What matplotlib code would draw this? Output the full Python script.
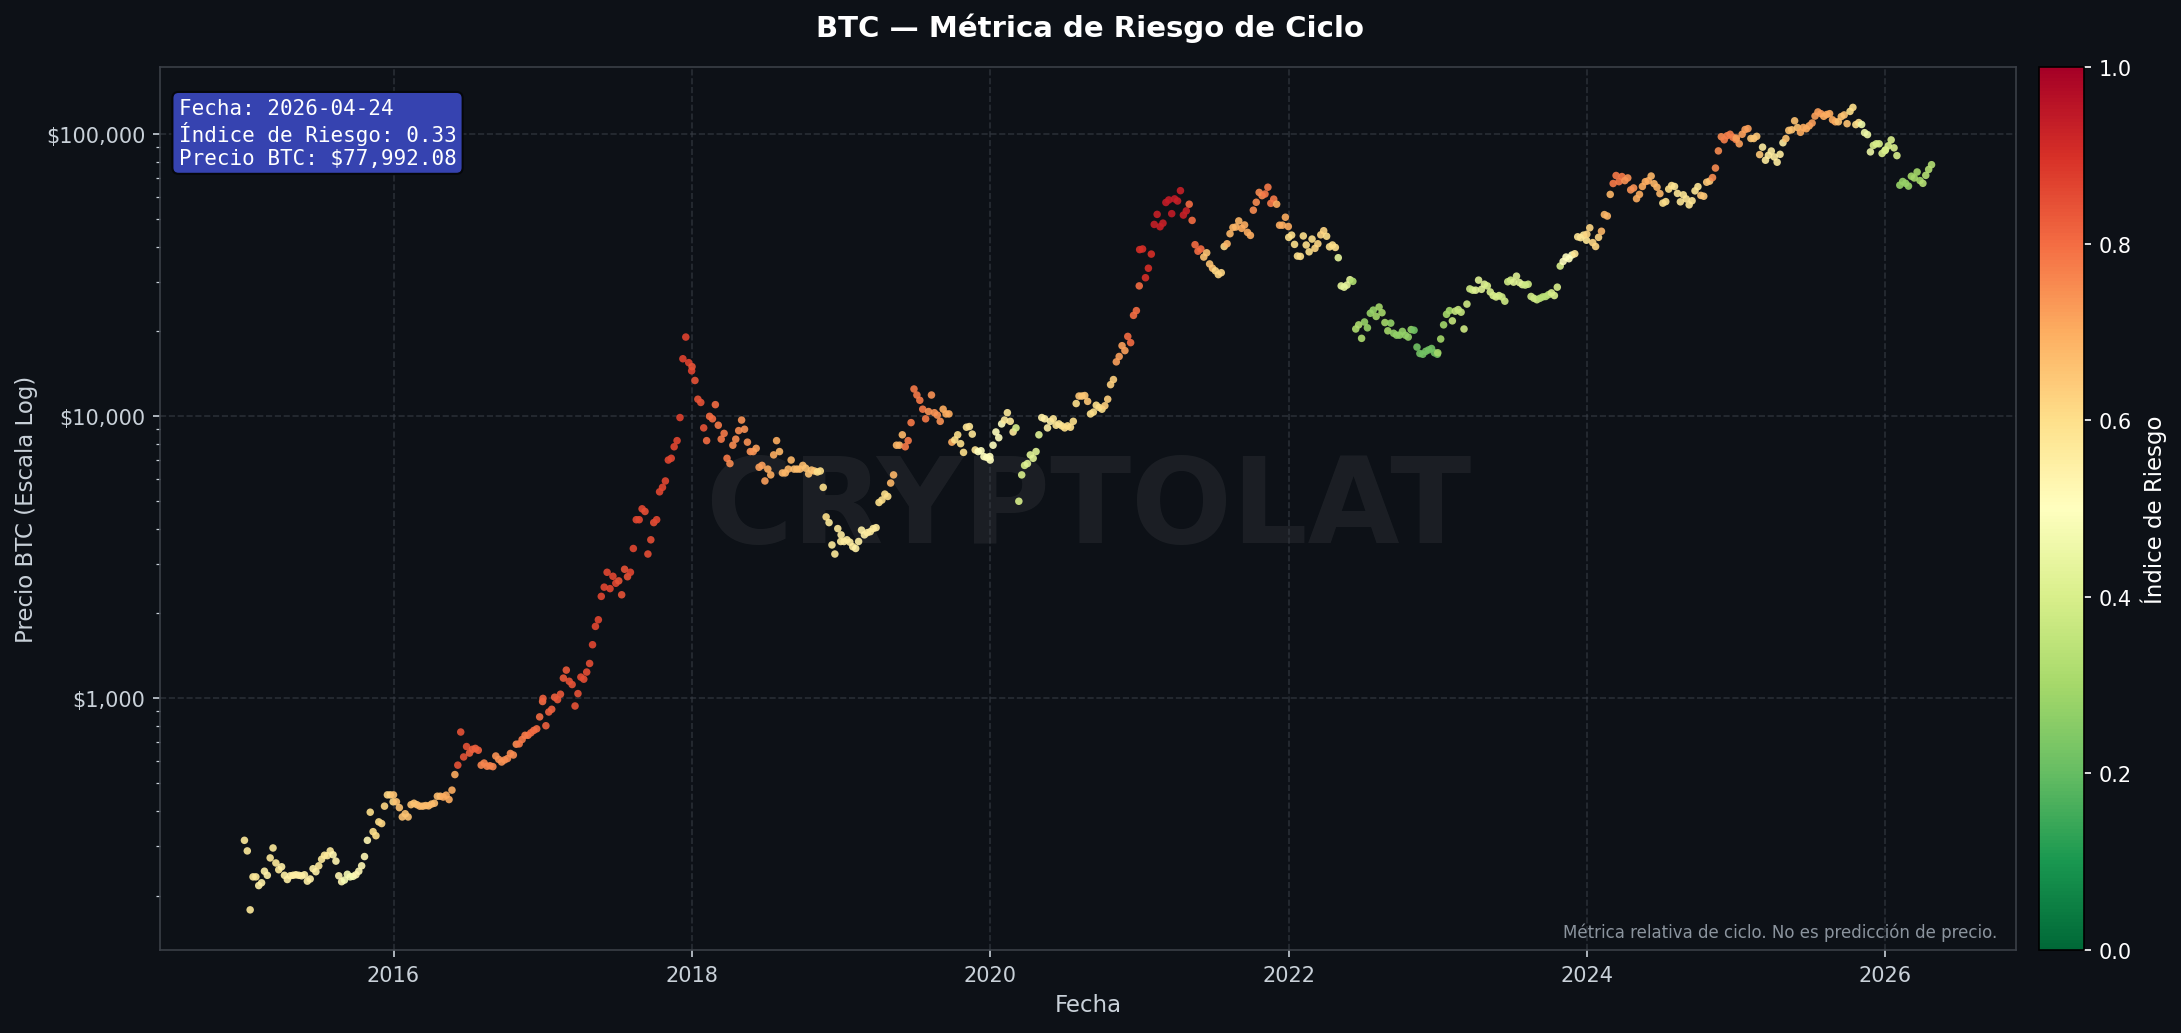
import pandas as pd
import numpy as np
import matplotlib
matplotlib.use("Agg")
import matplotlib.pyplot as plt
import matplotlib.dates as mdates
from matplotlib.ticker import FuncFormatter, NullFormatter

# precio semanal aproximado (USD), por año
p2015 = [314, 288, 178, 233, 233, 217, 222, 244, 236, 272, 295, 261, 247,
         253, 236, 228, 235, 236, 237, 236, 235, 237, 225, 229, 249, 243,
         255, 269, 278, 277, 288, 279, 265, 235, 224, 227, 238, 233, 234,
         237, 244, 255, 275, 314, 395, 337, 326, 365, 360, 415, 455, 455, 430]
p2016 = [455, 430, 410, 380, 390, 380, 420, 425, 420, 415, 415, 417, 416,
         422, 425, 450, 450, 447, 454, 438, 473, 537, 580, 760, 620, 675,
         640, 660, 665, 655, 580, 590, 575, 577, 573, 625, 608, 595, 605,
         612, 638, 630, 688, 690, 715, 740, 740, 755, 770, 780, 860, 975]
p2017 = [1000, 800, 895, 915, 1010, 990, 1035, 1180, 1260, 1150, 1120, 940, 1040,
         1190, 1170, 1240, 1330, 1550, 1800, 1900, 2300, 2480, 2800, 2450, 2710, 2560,
         2610, 2330, 2870, 2700, 2800, 3400, 4300, 4300, 4700, 4600, 3250, 3650, 4200,
         4300, 5400, 5600, 5900, 7000, 7100, 7800, 8200, 9900, 16000, 19100, 15500, 14500]
p2018 = [15000, 13400, 11500, 11200, 9100, 8200, 10000, 9800, 11000, 9300, 8300, 8700, 7100,
         6800, 7900, 8300, 8900, 9700, 9000, 8100, 7500, 7500, 7700, 6600, 6700, 5900,
         6500, 6200, 7300, 8200, 7500, 6300, 6300, 6500, 7000, 6500, 6500, 6500, 6700,
         6550, 6250, 6450, 6400, 6350, 6400, 5600, 4400, 4200, 3500, 3250, 4000, 3600]
p2019 = [3800, 3600, 3650, 3580, 3450, 3400, 3600, 3950, 3800, 3870, 3900, 4000, 4030,
         4950, 5050, 5300, 5200, 5800, 6200, 7900, 7900, 8600, 7800, 8200, 9500, 12500,
         11900, 11400, 10600, 9800, 10400, 11900, 10300, 10100, 9600, 10600, 10200, 10200, 8100,
         8250, 8600, 8000, 7450, 9150, 9200, 8650, 7600, 7500, 7550, 7200, 7150, 7200]
p2020 = [7000, 7900, 8800, 8400, 9400, 9700, 10300, 9600, 8800, 9100, 5000, 6200, 6700,
         6800, 7300, 7100, 7500, 8600, 9900, 9800, 9100, 9600, 9800, 9300, 9400, 9250,
         9100, 9250, 9150, 9600, 11100, 11800, 11800, 11850, 11300, 10200, 10350, 10950, 10750,
         10600, 10900, 11500, 12950, 13500, 15600, 16300, 17800, 17100, 19200, 18250, 22800,
         23700, 29000]
p2021 = [39000, 39200, 31000, 33500, 37600, 47900, 52000, 47000, 48400, 57300, 58500, 52300,
         59000, 58000, 63100, 51700, 53500, 56500, 49500, 40600, 38500, 39200, 36700, 38000,
         34700, 33500, 32800, 31800, 32300, 40000, 40900, 44400, 46700, 46900, 49300, 46400,
         47700, 44900, 43800, 53800, 57400, 62200, 60600, 61400, 64900, 56900, 58900, 56500,
         47600, 47600, 50800, 47100]
p2022 = [43100, 43900, 40700, 37000, 36900, 43600, 40500, 38300, 42500, 39400, 40900, 44000,
         45500, 43500, 39900, 40500, 39700, 36500, 29000, 28700, 29200, 30500, 30100, 20400,
         21100, 18900, 21600, 20600, 23200, 23800, 22600, 24400, 23300, 21500, 20100, 21400,
         19700, 19400, 19400, 20000, 19400, 19100, 20300, 20200, 17600, 16700, 16600, 17000,
         17200, 17400, 16800, 16600]
p2023 = [16800, 18800, 21100, 23000, 23700, 21800, 23600, 23900, 23400, 20400, 25000, 28300,
         28000, 28000, 30400, 28200, 29400, 29000, 27600, 26800, 26500, 26800, 26500, 25600,
         30000, 30400, 29900, 31400, 29800, 29300, 29200, 29400, 26600, 26200, 25900, 26200,
         26500, 26600, 27000, 27400, 26800, 28700, 34100, 35400, 36700, 36200, 37300, 37700,
         43300, 43000, 43900, 42100]
p2024 = [44200, 46600, 41300, 40000, 43100, 45300, 51900, 51300, 61200, 66900, 71400, 67900,
         70800, 68500, 70000, 63500, 64500, 59100, 61200, 65300, 67900, 68400, 71100, 66800,
         64900, 61600, 57000, 57700, 63900, 65800, 65300, 61700, 57600, 61000, 59000, 56200,
         58100, 63000, 65200, 60700, 60300, 67600, 68200, 70200, 75900, 87300, 98000, 95600,
         98800, 100000, 97500, 95800]
p2025 = [96900, 92500, 100000, 103900, 104700, 96600, 96600, 98300, 84700, 90000, 80900, 84200,
         87200, 83100, 79600, 84900, 93300, 96500, 103200, 103700, 111600, 105600, 101600, 105700,
         104600, 107100, 109600, 116000, 120000, 118300, 115800, 117500, 118300, 112500, 110700,
         110700, 115500, 117100, 109000, 120500, 124500, 108200, 110000, 108300, 101300, 99700,
         86600, 91300, 92500, 92500, 85500, 87500]
p2026 = [88000, 91000, 95500, 89500, 84000, 66000, 68000, 67000, 65500, 71000, 70000, 73500,
         68500, 67000, 71500, 75000, 77992.08]

r2015 = [0.57, 0.55, 0.57, 0.55, 0.55, 0.55, 0.57, 0.53, 0.48, 0.52, 0.60, 0.62]
r2016 = [0.66, 0.66, 0.67, 0.67, 0.70, 0.84, 0.82, 0.76, 0.74, 0.75, 0.78, 0.80]
r2017 = [0.82, 0.83, 0.84, 0.85, 0.86, 0.86, 0.84, 0.86, 0.85, 0.86, 0.86, 0.87]
r2018 = [0.84, 0.80, 0.78, 0.75, 0.74, 0.72, 0.70, 0.68, 0.67, 0.66, 0.60, 0.57]
r2019 = [0.56, 0.55, 0.56, 0.60, 0.68, 0.78, 0.78, 0.74, 0.70, 0.60, 0.58, 0.50]
r2020 = [0.50, 0.57, 0.40, 0.42, 0.55, 0.58, 0.60, 0.65, 0.60, 0.63, 0.72, 0.80]
r2021 = [0.90, 0.93, 0.94, 0.93, 0.80, 0.66, 0.62, 0.68, 0.70, 0.75, 0.78, 0.70]
r2022 = [0.60, 0.60, 0.62, 0.60, 0.43, 0.32, 0.28, 0.30, 0.27, 0.27, 0.22, 0.22]
r2023 = [0.30, 0.36, 0.38, 0.42, 0.40, 0.38, 0.42, 0.38, 0.34, 0.40, 0.50, 0.58]
r2024 = [0.62, 0.68, 0.78, 0.74, 0.70, 0.68, 0.60, 0.58, 0.58, 0.65, 0.75, 0.77]
r2025 = [0.72, 0.65, 0.56, 0.56, 0.66, 0.70, 0.72, 0.70, 0.66, 0.60, 0.45, 0.40]
r2026 = [0.40, 0.28, 0.30, 0.33]

precios = {2015: p2015, 2016: p2016, 2017: p2017, 2018: p2018, 2019: p2019, 2020: p2020,
           2021: p2021, 2022: p2022, 2023: p2023, 2024: p2024, 2025: p2025, 2026: p2026}
riesgos = {2015: r2015, 2016: r2016, 2017: r2017, 2018: r2018, 2019: r2019, 2020: r2020,
           2021: r2021, 2022: r2022, 2023: r2023, 2024: r2024, 2025: r2025, 2026: r2026}

filas = []
for anio, vals in precios.items():
    fin = "2026-04-24" if anio == 2026 else f"{anio}-12-31"
    fechas = pd.date_range(f"{anio}-01-01", fin, periods=len(vals))
    for f, v in zip(fechas, vals):
        filas.append((f, v, riesgos[anio][f.month - 1]))
df = pd.DataFrame(filas, columns=["fecha", "precio", "riesgo"])

BG = "#0d1117"
fig = plt.figure(figsize=(14.54, 6.893), dpi=150, facecolor=BG)
ax = fig.add_axes([0.0734, 0.0803, 0.8509, 0.8537], facecolor=BG)
cax = fig.add_axes([0.9349, 0.0803, 0.0206, 0.8537])

sc = ax.scatter(df["fecha"], df["precio"], c=df["riesgo"], cmap="RdYlGn_r",
                vmin=0, vmax=1, s=13, alpha=0.9, linewidths=0, zorder=3)
ax.set_yscale("log")

ax.yaxis.set_major_formatter(FuncFormatter(lambda v, pos: f"${v:,.0f}"))
ax.yaxis.set_minor_formatter(NullFormatter())
ax.xaxis.set_major_locator(mdates.YearLocator(2))
ax.xaxis.set_major_formatter(mdates.DateFormatter("%Y"))

ax.grid(True, which="major", linestyle="--", color="#3a3f47", alpha=0.6, linewidth=0.8)
for s in ax.spines.values():
    s.set_color("#3a3f47")
ax.tick_params(colors="#c9d1d9", labelsize=10, which="both")

ax.set_xlabel("Fecha", color="#c9d1d9", fontsize=11)
ax.set_ylabel("Precio BTC (Escala Log)", color="#c9d1d9", fontsize=11)
fig.text(0.5, 0.973, "BTC — Métrica de Riesgo de Ciclo", color="white",
         fontsize=14, fontweight="bold", ha="center", va="center")

ax.text(0.5, 0.5, "CRYPTOLAT", transform=ax.transAxes, ha="center", va="center",
        fontsize=57, fontweight="bold", color="white", alpha=0.06, zorder=1)

ult = df.iloc[-1]
info = (f"Fecha: {ult['fecha']:%Y-%m-%d}\n"
        f"Índice de Riesgo: {ult['riesgo']:.2f}\n"
        f"Precio BTC: ${ult['precio']:,.2f}")
ax.text(0.01, 0.965, info, transform=ax.transAxes, ha="left", va="top",
        family="DejaVu Sans Mono", fontsize=10, color="white", linespacing=1.15,
        bbox=dict(boxstyle="round,pad=0.3", facecolor="#3643b0", edgecolor="#05070a"),
        zorder=5)

ax.text(0.99, 0.01, "Métrica relativa de ciclo. No es predicción de precio.",
        transform=ax.transAxes, ha="right", va="bottom", fontsize=8, color="#8b949e")

cb = fig.colorbar(sc, cax=cax)
cb.solids.set_alpha(1)
cb.set_label("Índice de Riesgo", color="white", fontsize=11)
cb.ax.tick_params(colors="white", labelsize=10)

fig.savefig("out.png", dpi=150, facecolor=BG)
